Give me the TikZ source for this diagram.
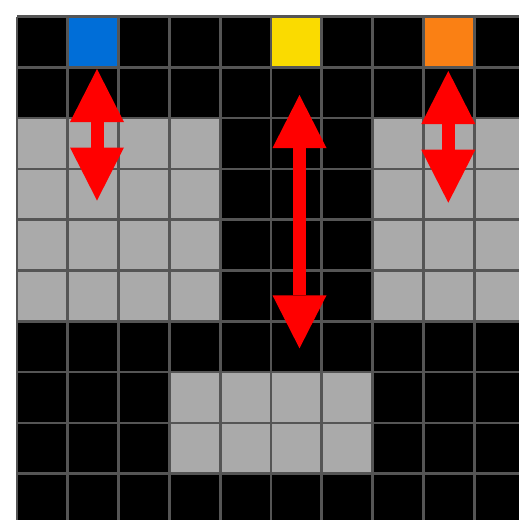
\documentclass[tikz,border=0pt]{standalone}
\usetikzlibrary{arrows.meta}
\definecolor{gridline}{HTML}{555555}
\definecolor{cellgray}{HTML}{AAAAAA}
\definecolor{cellblue}{HTML}{006ED8}
\definecolor{cellyellow}{HTML}{FADB00}
\definecolor{cellorange}{HTML}{FA8014}
\definecolor{arrred}{HTML}{FF0000}
\begin{document}
\begin{tikzpicture}[x=1pt,y=-1pt,
  gridstyle/.style={draw=gridline,line width=2.7pt},
  grayfill/.style={fill=cellgray},
  dblarrow/.style={draw=arrred,line width=13pt,
    {Triangle[length=53pt,width=54pt,line width=0pt]}-{Triangle[length=53pt,width=54pt,line width=0pt]}}]
\useasboundingbox (0,0) rectangle (519,520);
\def\cs{50.8}
\def\gx{17}
\def\gy{16.5}
% background black
\fill[black] (\gx,\gy) rectangle ({\gx+10*\cs},{\gy+10*\cs});
% gray cells
\foreach \r in {2,3,4,5}{
  \foreach \c in {0,1,2,3,7,8,9}{
    \fill[grayfill] ({\gx+\c*\cs},{\gy+\r*\cs}) rectangle ++(\cs,\cs);
  }
}
\foreach \r in {7,8}{
  \foreach \c in {3,4,5,6}{
    \fill[grayfill] ({\gx+\c*\cs},{\gy+\r*\cs}) rectangle ++(\cs,\cs);
  }
}
% coloured cells
\fill[cellblue] ({\gx+1*\cs},\gy) rectangle ++(\cs,\cs);
\fill[cellyellow] ({\gx+5*\cs},\gy) rectangle ++(\cs,\cs);
\fill[cellorange] ({\gx+8*\cs},\gy) rectangle ++(\cs,\cs);
% grid lines
\foreach \k in {0,...,10}{
  \draw[gridstyle] ({\gx+\k*\cs},\gy) -- ({\gx+\k*\cs},{\gy+10*\cs});
  \draw[gridstyle] (\gx,{\gy+\k*\cs}) -- ({\gx+10*\cs},{\gy+\k*\cs});
}
% arrows
\coordinate (a1top) at (97,69);
\coordinate (a1bot) at (97,200.5);
\coordinate (a2top) at (448.3,71);
\coordinate (a2bot) at (448.3,202.7);
\coordinate (a3top) at (299.5,95);
\coordinate (a3bot) at (299.5,348.3);
\draw[dblarrow] (a1top) -- (a1bot);
\draw[dblarrow] (a2top) -- (a2bot);
\draw[dblarrow] (a3top) -- (a3bot);
\end{tikzpicture}
\end{document}
